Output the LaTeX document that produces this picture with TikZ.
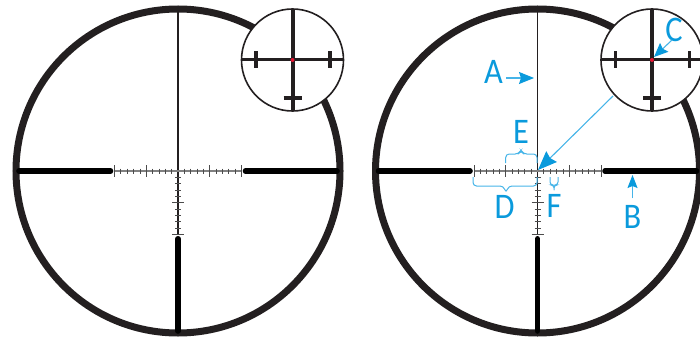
\documentclass[tikz,border=0pt]{standalone}
\usepackage{fontspec}
\newfontfamily\calloutfont[FakeStretch=0.9]{Carlito}
\definecolor{RingBlack}{RGB}{35,31,32}
\definecolor{CalloutBlue}{RGB}{10,154,220}
\definecolor{ShaftBlue}{RGB}{70,180,232}
\definecolor{DotRed}{RGB}{230,20,50}
\usetikzlibrary{arrows.meta}
\tikzset{
  ring/.style={draw=RingBlack,line width=7pt},
  bar/.style={draw=black,line width=5.6pt,line cap=round},
  hair/.style={draw=RingBlack,line width=1.2pt},
  fine/.style={draw=black!50,line width=1.3pt},
  tick/.style={draw=black!70,line width=0.8pt},
  lens/.style={draw=RingBlack,fill=white,line width=1.6pt},
  callout/.style={font=\calloutfont\fontsize{36}{36}\selectfont,text=CalloutBlue,inner sep=0pt},
  pointer/.style 2 args={-{Stealth[length=#1,width=#2,inset=2pt,color=CalloutBlue]},draw=ShaftBlue,line width=1.1pt},
  curly/.style={draw=ShaftBlue,line width=1pt,rounded corners=3.5pt},
  reticle/.pic={
    \draw[ring] (0,0) circle (162);
    \draw[hair] (0,-162) -- (0,63.5);
    \draw[fine] (-64,0) -- (64,0);
    \foreach \i in {1,2,3,4,6,7,8,9}{
      \draw[tick] ({-6.35*\i},-2.5) -- ({-6.35*\i},2.5);
      \draw[tick] ({6.35*\i},-2.5) -- ({6.35*\i},2.5);
      \draw[tick] (-3,{6.35*\i}) -- (3,{6.35*\i});
    }
    \foreach \i in {5,10}{
      \draw[tick] ({-6.35*\i},-6) -- ({-6.35*\i},6);
      \draw[tick] ({6.35*\i},-6) -- ({6.35*\i},6);
      \draw[tick] (-6,{6.35*\i}) -- (6,{6.35*\i});
    }
    \draw[bar] (-159,0) -- (-67.5,0);
    \draw[bar] (67.5,0) -- (159,0);
    \draw[bar] (0,67.8) -- (0,160);
    % magnified inset
    \draw[lens] (114.5,-111) circle (51);
    \draw[draw=RingBlack,line width=4pt] (114.5,-162) -- (114.5,-60);
    \draw[draw=RingBlack,line width=3pt] (63.5,-111) -- (165.5,-111);
    \draw[draw=RingBlack,line width=3.4pt] (78,-119.5) -- (78,-102.5);
    \draw[draw=RingBlack,line width=3.4pt] (152,-119.5) -- (152,-102.5);
    \draw[draw=RingBlack,line width=3.4pt] (105.5,-73) -- (123.5,-73);
    \fill[DotRed] (114.5,-111) circle (2);
  },
}

\begin{document}
\begin{tikzpicture}[x=1pt,y=-1pt]
  \clip (0,0) rectangle (700,339);
  \pic at (178,171) {reticle};
  \pic at (537.5,171) {reticle};
  % labels
  \node[callout] (lblA) at (493.5,72) {A};
  \node[callout] (lblB) at (632.5,217) {B};
  \node[callout] (lblC) at (674,30) {C};
  \node[callout] (lblD) at (504.5,207) {D};
  \node[callout] (lblE) at (521,132) {E};
  \node[callout] (lblF) at (554,206) {F};
  % pointers
  \coordinate (tipA) at (534,78);
  \coordinate (tipB) at (632.5,175);
  \coordinate (tipC) at (654,57);
  \coordinate (tipcentre) at (538,170);
  \coordinate (startA) at (506,78);
  \coordinate (startC) at (672,40);
  \coordinate (lensedge) at (613,96);
  \draw[pointer={15pt}{12pt}] (startA) -- (tipA);
  \draw[pointer={13pt}{10pt},shorten <=7pt] (lblB.north) -- (tipB);
  \draw[pointer={14pt}{12pt}] (startC) -- (tipC);
  \draw[pointer={19pt}{15pt}] (lensedge) -- (tipcentre);
  % braces
  \draw[curly] (505.7,163) -- ++(0,-9) -- ++(13,0) -- ++(2.3,-4) -- ++(2.3,4) -- (537,154) -- (537,163);
  \draw[curly] (473,177) -- ++(0,9) -- ++(30.5,0) -- ++(2.5,7) -- ++(2.5,-7) -- (537,186) -- (537,177);
  \draw[curly,rounded corners=3pt] (550,177) -- ++(0,8) -- ++(4,0) -- ++(0,5) -- ++(0,-5) -- ++(4,0) -- ++(0,-8);
\end{tikzpicture}
\end{document}
